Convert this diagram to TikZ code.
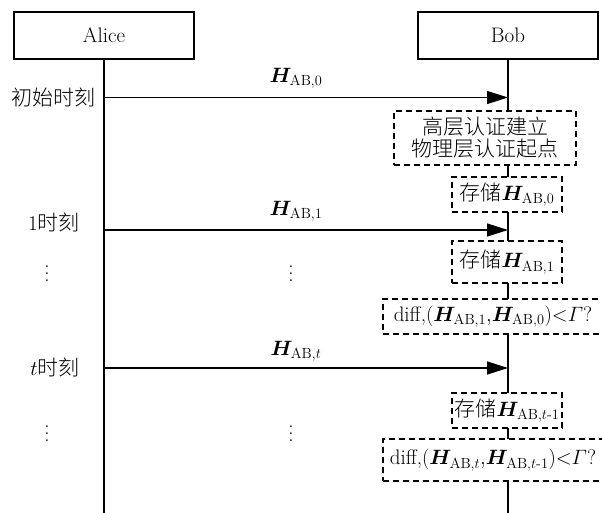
\documentclass[tikz,border=0pt]{standalone}
\usepackage{amsmath,bm}
\usepackage{fontspec}
\newfontfamily\cjk{Noto Sans CJK SC Light}
\usetikzlibrary{arrows.meta}
\newcommand\tallvdots{\vbox{\baselineskip7pt\lineskiplimit0pt\kern4pt\hbox{.}\hbox{.}\hbox{.}}}
\begin{document}
\begin{tikzpicture}[x=1pt,y=-1pt,line width=1.2pt,
  every node/.style={font=\fontsize{21}{25}\selectfont},
  party/.style={draw, fill=white, minimum width=180pt, minimum height=47pt},
  dbox/.style={draw, dash pattern=on 6pt off 4pt, fill=white, inner sep=0pt},
  msg/.style={-{Triangle[length=21pt,width=13pt]}}]
\useasboundingbox (0,0) rectangle (602,513);
\node[party] (alice) at (104,35.5) {Alice};
\node[party] (bob) at (508,35.5) {Bob};
\coordinate (aend) at (104,513);
\coordinate (bend) at (508,513);
\draw (alice) -- (aend);
\draw (bob) -- (bend);
\coordinate (a0) at (104,97.5);
\coordinate (b0) at (508,97.5);
\coordinate (a1) at (104,230);
\coordinate (b1) at (508,230);
\coordinate (at) at (104,368);
\coordinate (bt) at (508,368);
\draw[msg] (a0) -- (b0);
\draw[msg] (a1) -- (b1);
\draw[msg] (at) -- (bt);
\node (t0) at (53,97.5) {\cjk 初始时刻};
\node (t1) at (54,222) {1{\cjk 时刻}};
\node (tt) at (55,367) {$t${\cjk 时刻}};
\node (h0) at (296,78) {$\bm{H}_{\mathrm{AB},0}$};
\node (h1) at (296,211) {$\bm{H}_{\mathrm{AB},1}$};
\node (ht) at (296,351) {$\bm{H}_{\mathrm{AB},t}$};
\node (ldots1) at (47,272) {\tallvdots};
\node (mdots1) at (291,272) {\tallvdots};
\node (ldots2) at (47,432) {\tallvdots};
\node (mdots2) at (291,432) {\tallvdots};
\node[dbox, minimum width=182pt, minimum height=54pt, align=center] (auth) at (485,138) {{\cjk 高层认证建立}\\[-3pt]{\cjk 物理层认证起点}};
\node[dbox, minimum width=110pt, minimum height=35pt] (store0) at (507,194.5) {{\cjk 存储}$\bm{H}_{\mathrm{AB},0}$};
\node[dbox, minimum width=110pt, minimum height=42pt] (store1) at (507,262) {{\cjk 存储}$\bm{H}_{\mathrm{AB},1}$};
\node[dbox, minimum width=220pt, minimum height=35pt] (diff1) at (493,316.5) {diff,$(\bm{H}_{\mathrm{AB},1}{,}\bm{H}_{\mathrm{AB},0}){<}\mathnormal{\Gamma}$?};
\node[dbox, minimum width=110pt, minimum height=35pt] (storet) at (507,410.5) {{\cjk 存储}$\bm{H}_{\mathrm{AB},t\text{-}1}$};
\node[dbox, minimum width=220pt, minimum height=42pt] (diff2) at (493,460) {diff,$(\bm{H}_{\mathrm{AB},t}{,}\bm{H}_{\mathrm{AB},t\text{-}1}){<}\mathnormal{\Gamma}$?};
\end{tikzpicture}
\end{document}
